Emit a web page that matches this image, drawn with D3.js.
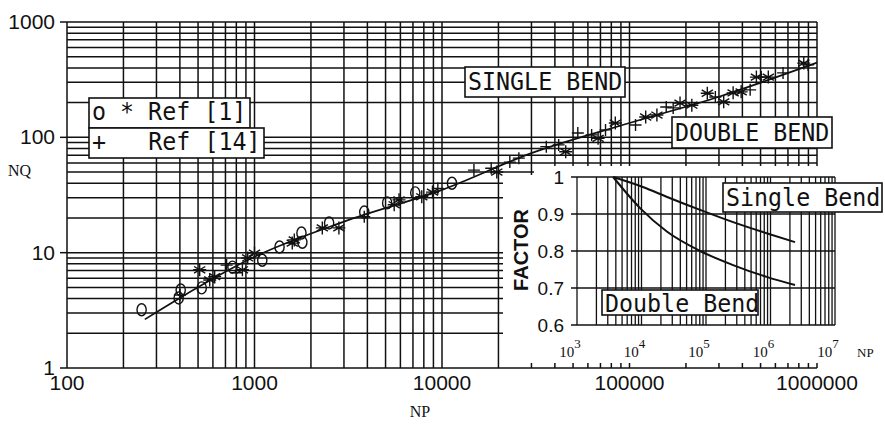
<!DOCTYPE html>
<html><head><meta charset="utf-8">
<script src="https://cdn.jsdelivr.net/npm/d3@7"></script>
<style>body{margin:0;background:#fff}svg{display:block}text{white-space:pre}</style>
</head><body><svg id="c" width="885" height="424"></svg>
<script>
// ---------- data ----------
const xTickValues = [100, 1000, 10000, 100000, 1000000];
const xTickLabels = ["100", "1000", "10000", "100000", "1000000"];
const yTickValues = [1, 10, 100, 1000];
const yTickLabels = ["1", "10", "100", "1000"];

// Ref [1] "o" markers  [NP, NQ]
const refCircle = [[250,3.2],[394,4.05],[404,4.75],[523,4.95],[763,7.5],[1100,8.6],[1360,11.2],
  [1780,14.8],[1800,12.3],[2500,18.1],[3850,22.5],[5100,27],[7200,33],[11300,40]];
// Ref [1] "*" markers
const refStar = [[510,7.1],[577,5.8],[613,6.2],[862,7.1],[920,9.0],[1000,9.9],[1590,12.1],[1630,12.9],
  [2300,16.4],[2820,16.4],[5560,26],[5900,28.7],[7800,30.5],[8900,33.5],[19600,50],[45700,75],
  [68000,98],[84000,133],[122000,150],[140000,156],[186000,198],[215000,190],[260000,241],
  [318000,203],[357000,243],[394000,248],[475000,333],[550000,333],[850000,440]];
// Ref [14] "+" markers
const ref14Plus = [[400,4.3],[710,7.8],[800,6.7],[3850,20.5],[9500,36],[14800,52],[18300,54],
  [23000,61],[25700,66],[36000,83],[41900,86],[53000,109],[62800,105],[74500,116],[107700,128],
  [157000,183],[171000,180],[287000,224],[440000,258],[504000,334],[659000,362],[896000,425]];
// correlation curve
const fitLine = [[260,2.64],[400,4.05],[1000,9.2],[3000,18.6],[10000,35],[30000,73],
  [100000,133],[300000,225],[1000000,444]];

// inset
const insetXTicks = [1e3, 1e4, 1e5, 1e6, 1e7];
const insetXExp = ["3", "4", "5", "6", "7"];
const insetYTicks = [0.6, 0.7, 0.8, 0.9, 1.0];
const insetYLabels = ["0.6", "0.7", "0.8", "0.9", "1"];
const singleBend = [[3630,1.0],[10500,0.973],[25000,0.946],[81000,0.911],[263000,0.878],[870000,0.848],[2400000,0.824]];
const doubleBend = [[3630,1.0],[9500,0.916],[25000,0.852],[81000,0.80],[263000,0.762],[870000,0.73],[2400000,0.708]];

// ---------- drawing ----------
const svg = d3.select("#c");
const INK = "#111";
const x = d3.scaleLog().domain([100, 1e6]).range([67, 817]);
const y = d3.scaleLog().domain([1, 1000]).range([368, 22]);

const g = svg.append("g");
// grid
g.selectAll("line.vx").data(x.ticks()).join("line")
  .attr("x1", d => x(d)).attr("x2", d => x(d)).attr("y1", y(1)).attr("y2", y(1000))
  .attr("stroke", INK).attr("stroke-width", 1.5);
g.selectAll("line.hy").data(y.ticks()).join("line")
  .attr("y1", d => y(d)).attr("y2", d => y(d)).attr("x1", x(100)).attr("x2", x(1e6))
  .attr("stroke", INK).attr("stroke-width", 1.5);
// left major ticks
g.selectAll("line.yt").data(yTickValues).join("line")
  .attr("x1", 60).attr("x2", x(100)).attr("y1", d => y(d)).attr("y2", d => y(d))
  .attr("stroke", INK).attr("stroke-width", 1.5);
// tick labels
g.selectAll("text.yl").data(yTickValues).join("text")
  .attr("x", 55).attr("y", d => y(d) + 7).attr("text-anchor", "end")
  .attr("font-family", "Liberation Sans, Arial, sans-serif").attr("font-size", 21).attr("fill", INK)
  .text((d, i) => yTickLabels[i]);
g.selectAll("text.xl").data(xTickValues).join("text")
  .attr("x", d => x(d)).attr("y", 390).attr("text-anchor", "middle")
  .attr("font-family", "Liberation Sans, Arial, sans-serif").attr("font-size", 21).attr("fill", INK)
  .text((d, i) => xTickLabels[i]);
svg.append("text").attr("x", 8).attr("y", 176).attr("font-family", "Liberation Serif, serif")
  .attr("font-size", 16).attr("fill", INK).text("NQ");
svg.append("text").attr("x", 420).attr("y", 417).attr("text-anchor", "middle").attr("font-family", "Liberation Serif, serif")
  .attr("font-size", 16).attr("fill", INK).text("NP");

// fit line
const line = d3.line().x(d => x(d[0])).y(d => y(d[1])).curve(d3.curveMonotoneX);
svg.append("path").attr("d", line(fitLine)).attr("fill", "none").attr("stroke", INK).attr("stroke-width", 1.7);

// markers
const mk = svg.append("g").attr("fill", "none").attr("stroke", INK).attr("stroke-width", 1.4);
mk.selectAll("ellipse").data(refCircle).join("ellipse")
  .attr("cx", d => x(d[0])).attr("cy", d => y(d[1])).attr("rx", 4.6).attr("ry", 6);
const starPath = "M0,-6.5V6.5M-5.6,-3.3L5.6,3.3M-5.6,3.3L5.6,-3.3M-6.5,0H6.5";
mk.selectAll("path.st").data(refStar).join("path")
  .attr("transform", d => `translate(${x(d[0])},${y(d[1])})`).attr("d", starPath);
mk.selectAll("path.pl").data(ref14Plus).join("path")
  .attr("transform", d => `translate(${x(d[0])},${y(d[1])})`).attr("d", "M0,-6V6M-6,0H6");

// labelled boxes
function box(x0, y0, w, h, txt, base) {
  svg.append("rect").attr("x", x0).attr("y", y0).attr("width", w).attr("height", h)
    .attr("fill", "#fff").attr("stroke", INK).attr("stroke-width", 1.6);
  svg.append("text").attr("x", x0 + 3).attr("y", base)
    .attr("font-family", "DejaVu Sans Mono, monospace").attr("font-size", 25).attr("fill", INK)
    .attr("textLength", txt.length * 14.3 - 3).attr("lengthAdjust", "spacingAndGlyphs")
    .text(txt);
}
box(89, 98, 161, 30, "o * Ref [1]", 120);
box(89, 128, 175, 30, "+   Ref [14]", 150);
box(465, 67, 160, 30, "SINGLE BEND", 90);
box(672, 117, 160, 31, "DOUBLE BEND", 141);

// ---------- inset ----------
svg.append("rect").attr("x", 534).attr("y", 166).attr("width", 308).attr("height", 197).attr("fill", "#fff");
svg.append("rect").attr("x", 503).attr("y", 175).attr("width", 40).attr("height", 188).attr("fill", "#fff");
const xi = d3.scaleLog().domain([1e3, 1e7]).range([577, 835]);
const yi = d3.scaleLinear().domain([0.6, 1.0]).range([325, 177]);
const ig = svg.append("g");
ig.selectAll("line.v").data(xi.ticks()).join("line")
  .attr("x1", d => xi(d)).attr("x2", d => xi(d)).attr("y1", yi(0.6)).attr("y2", yi(1))
  .attr("stroke", INK).attr("stroke-width", 1.3);
ig.selectAll("line.h").data(insetYTicks).join("line")
  .attr("x1", xi(1e3) - 6).attr("x2", xi(1e7)).attr("y1", d => yi(d)).attr("y2", d => yi(d))
  .attr("stroke", INK).attr("stroke-width", 1.5);
ig.selectAll("text.yl").data(insetYTicks).join("text")
  .attr("x", 564).attr("y", d => yi(d) + 7).attr("text-anchor", "end")
  .attr("font-family", "Liberation Sans, Arial, sans-serif").attr("font-size", 19).attr("fill", INK)
  .text((d, i) => insetYLabels[i]);
const xl = ig.selectAll("text.xl").data(insetXTicks).join("text")
  .attr("x", d => xi(d) - 7).attr("y", 357).attr("text-anchor", "middle")
  .attr("font-family", "Liberation Serif, serif").attr("font-size", 15).attr("fill", INK);
xl.append("tspan").text("10");
xl.append("tspan").attr("dy", -9).attr("font-size", 13).text((d, i) => insetXExp[i]);
svg.append("text").attr("x", 857).attr("y", 357).attr("font-family", "Liberation Serif, serif")
  .attr("font-size", 13).attr("fill", INK).text("NP");
svg.append("text").attr("transform", "translate(528,250) rotate(-90)").attr("text-anchor", "middle")
  .attr("font-family", "Liberation Sans, Arial, sans-serif").attr("font-weight", "bold")
  .attr("font-size", 20).attr("fill", INK).text("FACTOR");
const iline = d3.line().x(d => xi(d[0])).y(d => yi(d[1])).curve(d3.curveMonotoneX);
ig.append("path").attr("d", iline(singleBend)).attr("fill", "none").attr("stroke", INK).attr("stroke-width", 2);
ig.append("path").attr("d", iline(doubleBend)).attr("fill", "none").attr("stroke", INK).attr("stroke-width", 2);
box(723, 183, 159, 29, "Single Bend", 206);
box(602, 290, 156, 25, "Double Bend", 312);
</script></body></html>
